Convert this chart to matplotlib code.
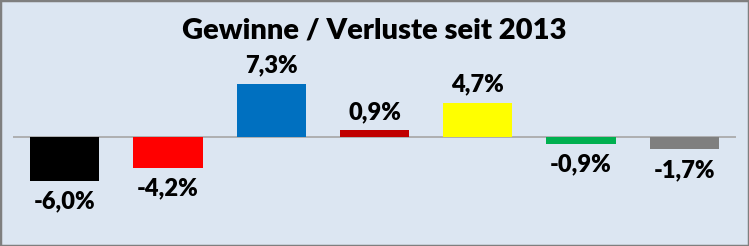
import matplotlib.pyplot as plt
from matplotlib.patches import Rectangle

# Daten
parteien = ["CDU/CSU", "SPD", "AfD", "Linke", "FDP", "Grüne", "Sonstige"]
werte = [-6.0, -4.2, 7.3, 0.9, 4.7, -0.9, -1.7]
farben = ["#000000", "#ff0000", "#0070c0", "#c00000", "#ffff00", "#00b050", "#7f7f7f"]

plt.rcParams["font.family"] = ["Lato", "DejaVu Sans"]

W, H = 749, 246
fig = plt.figure(figsize=(W / 100, H / 100), dpi=100)
fig.patch.set_facecolor("#dce6f2")

# Achse so platzieren, dass die Nulllinie bei ca. y=137 px liegt
ax = fig.add_axes([13 / W, (H - 230) / H, 723 / W, 180 / H])
ax.set_facecolor("none")
x = range(len(werte))
ax.bar(x, werte, width=0.67, color=farben)
ax.axhline(0, color="#a6a6a6", lw=1.2, zorder=0)
ax.set_xlim(-0.5, len(werte) - 0.5)
ax.set_ylim(-12.68, 11.87)
ax.axis("off")

for i, v in enumerate(werte):
    txt = f"{v:.1f}%".replace(".", ",")
    if v >= 0:
        ax.annotate(txt, (i, v), xytext=(0, 5), textcoords="offset points",
                    ha="center", va="bottom", fontsize=17, fontweight="heavy")
    else:
        ax.annotate(txt, (i, v), xytext=(0, -7), textcoords="offset points",
                    ha="center", va="top", fontsize=17, fontweight="heavy")

fig.text(0.5, 1 - 30 / H, "Gewinne / Verluste seit 2013", ha="center", va="center",
         fontsize=21, fontweight="heavy")

fig.patches.append(Rectangle((0, 0), 1, 1, transform=fig.transFigure, fill=False,
                             edgecolor="#7f7f7f", lw=2.5))

fig.savefig("out.png", dpi=100, facecolor=fig.get_facecolor())
